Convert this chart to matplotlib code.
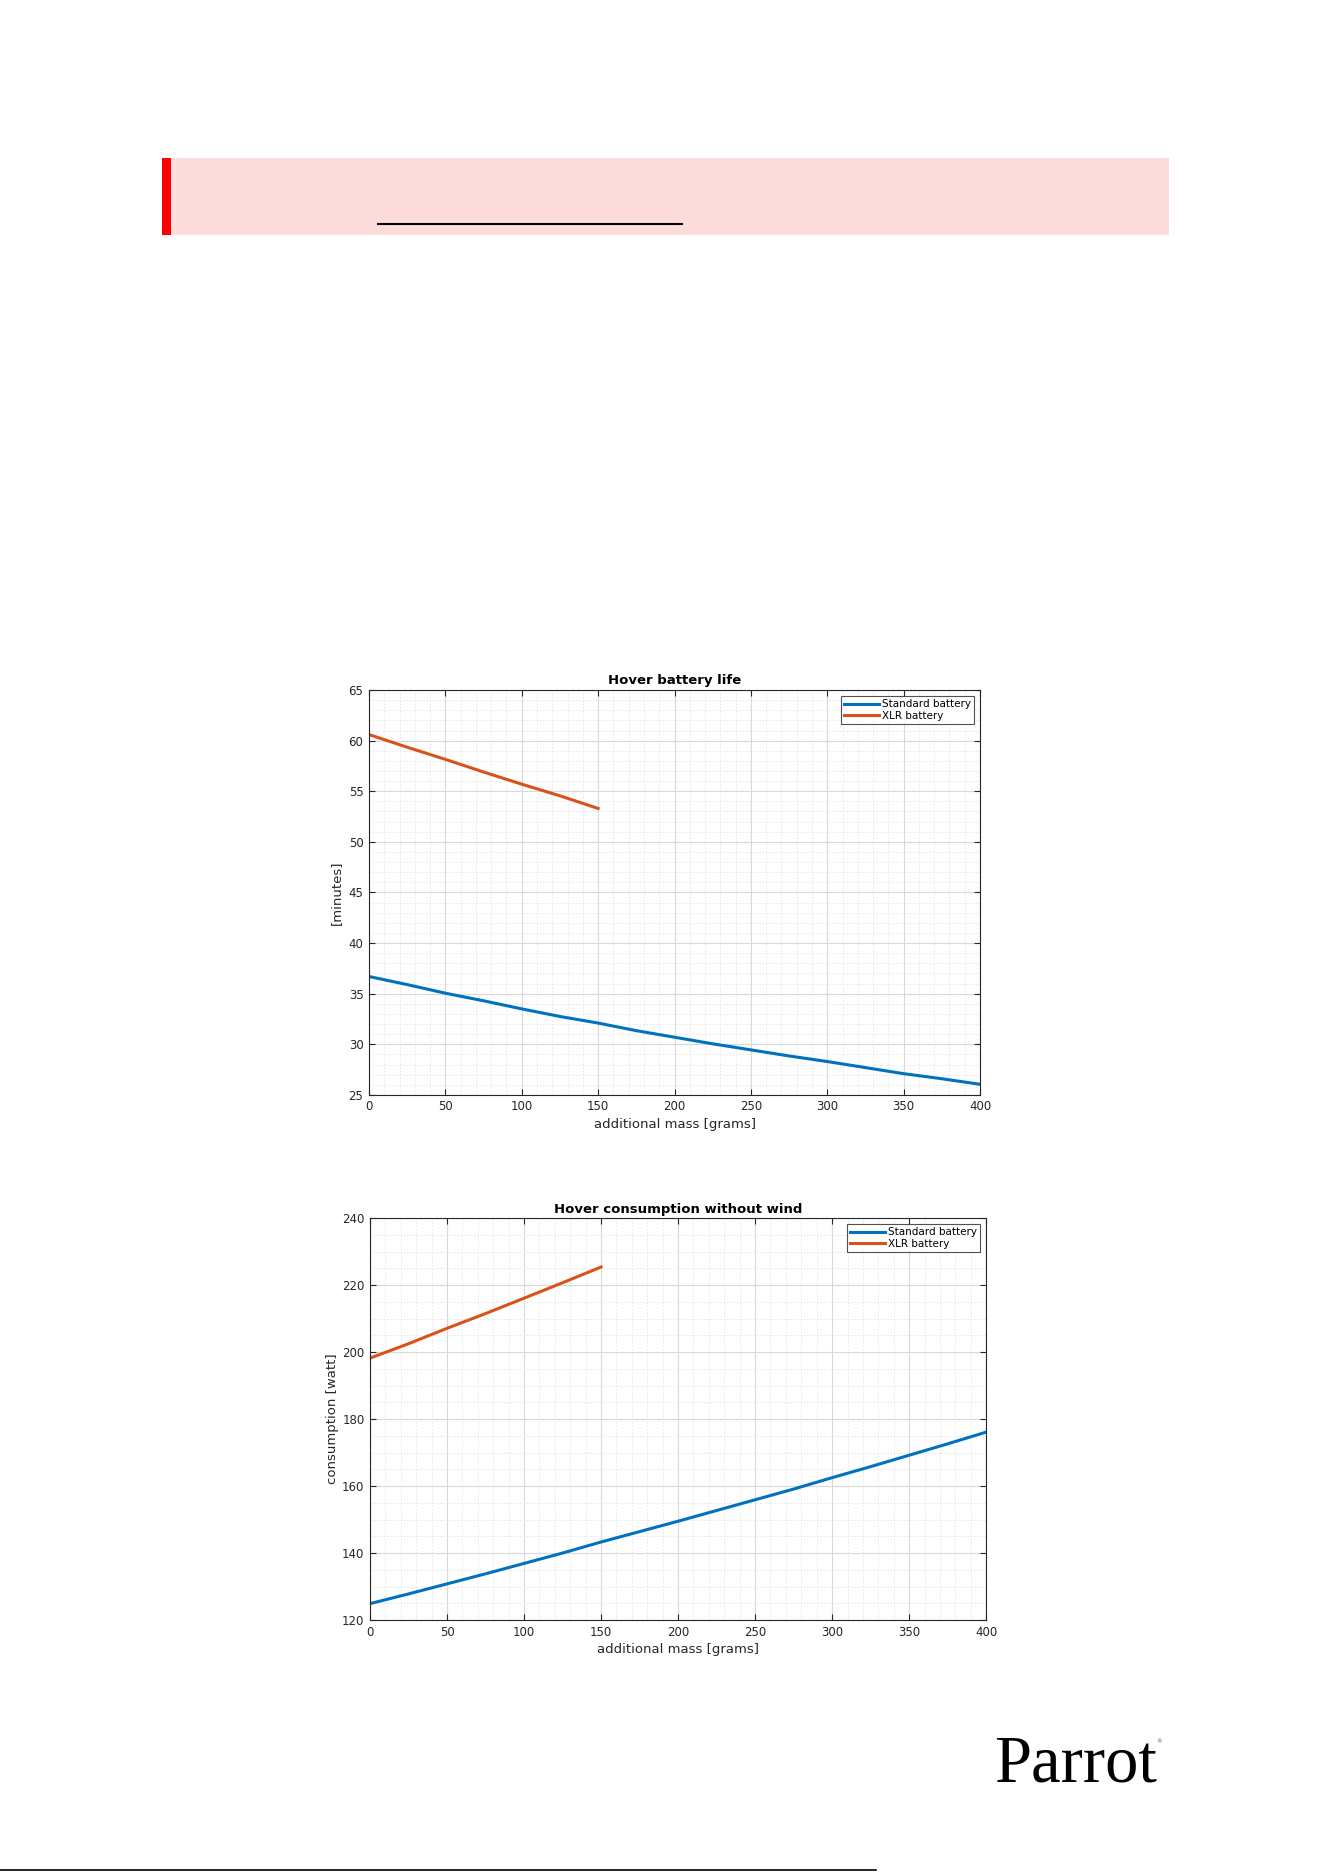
import matplotlib
matplotlib.use("Agg")
import matplotlib.pyplot as plt
from matplotlib.patches import Rectangle
from matplotlib.lines import Line2D
from matplotlib.ticker import MultipleLocator

plt.rcParams["font.family"] = ["DejaVu Sans"]

# additional mass [grams]
mass_std = [0, 25, 50, 75, 100, 125, 150, 175, 200, 225, 250, 275, 300, 325, 350, 375, 400]
mass_xlr = [0, 25, 50, 75, 100, 125, 150]

# hover battery life [minutes]
life_std = [36.7, 35.9, 35.05, 34.3, 33.5, 32.75, 32.1, 31.35, 30.7, 30.05, 29.45, 28.85, 28.3, 27.7, 27.1, 26.6, 26.05]
life_xlr = [60.6, 59.35, 58.15, 56.9, 55.7, 54.55, 53.3]

# hover consumption [watt]
cons_std = [124.9, 127.8, 130.8, 133.8, 136.9, 140.0, 143.3, 146.4, 149.5, 152.7, 155.9, 159.1, 162.5, 165.8, 169.2, 172.6, 176.1]
cons_xlr = [198.2, 202.5, 207.1, 211.5, 216.1, 220.7, 225.4]

BLUE = "#0072BD"
ORANGE = "#D95319"


def style_axes(ax, ymajor, yminor, ylim):
    ax.set_xlim(0, 400)
    ax.set_ylim(*ylim)
    ax.xaxis.set_major_locator(MultipleLocator(50))
    ax.xaxis.set_minor_locator(MultipleLocator(10))
    ax.yaxis.set_major_locator(MultipleLocator(ymajor))
    ax.yaxis.set_minor_locator(MultipleLocator(yminor))
    ax.grid(which="major", color="#d9d9d9", linewidth=0.8, linestyle="-")
    ax.grid(which="minor", color="#e4e4e4", linewidth=0.6, linestyle=(0, (2, 2)))
    ax.set_axisbelow(True)
    ax.tick_params(which="both", direction="in", top=True, right=True, labelsize=8.5,
                   colors="#262626", pad=4)
    ax.tick_params(which="minor", length=0)
    ax.tick_params(which="major", length=4)
    for s in ax.spines.values():
        s.set_color("#262626")
        s.set_linewidth(0.8)


def add_legend(ax):
    leg = ax.legend(loc="upper right", fontsize=7.5, frameon=True, fancybox=False,
                    handlelength=3.3, borderpad=0.3, labelspacing=0.15,
                    borderaxespad=0.6, handletextpad=0.3)
    leg.get_frame().set_edgecolor("#262626")
    leg.get_frame().set_linewidth(0.8)


fig = plt.figure(figsize=(13.24, 18.72), dpi=100)

# pink notice banner with red side bar
fig.patches.append(Rectangle((0.1224, 0.8745), 0.7606, 0.0411, transform=fig.transFigure,
                             facecolor="#FDDCDC", edgecolor="none"))
fig.patches.append(Rectangle((0.1224, 0.8745), 0.0068, 0.0411, transform=fig.transFigure,
                             facecolor="#FF0000", edgecolor="none"))
fig.lines.append(Line2D([0.2855, 0.5151], [0.8803, 0.8803], transform=fig.transFigure,
                        color="black", linewidth=1.5))

# top chart
ax1 = fig.add_axes([0.2787, 0.4151, 0.4615, 0.2163])
ax1.plot(mass_std, life_std, color=BLUE, linewidth=2.2, label="Standard battery")
ax1.plot(mass_xlr, life_xlr, color=ORANGE, linewidth=2.2, label="XLR battery")
style_axes(ax1, 5, 1, (25, 65))
ax1.set_title("Hover battery life", fontsize=9.5, fontweight="bold", pad=4)
ax1.set_xlabel("additional mass [grams]", fontsize=9.5, color="#262626", labelpad=3)
ax1.set_ylabel("[minutes]", fontsize=9.5, color="#262626", labelpad=4)
add_legend(ax1)

# bottom chart
ax2 = fig.add_axes([0.2795, 0.1346, 0.4653, 0.2147])
ax2.plot(mass_std, cons_std, color=BLUE, linewidth=2.2, label="Standard battery")
ax2.plot(mass_xlr, cons_xlr, color=ORANGE, linewidth=2.2, label="XLR battery")
style_axes(ax2, 20, 5, (120, 240))
ax2.set_title("Hover consumption without wind", fontsize=9.5, fontweight="bold", pad=4)
ax2.set_xlabel("additional mass [grams]", fontsize=9.5, color="#262626", labelpad=3)
ax2.set_ylabel("consumption [watt]", fontsize=9.5, color="#262626", labelpad=2)
add_legend(ax2)

# logo and footer rule
fig.text(0.751, 0.0483, "Parrot", family="Liberation Serif", fontsize=48, color="black",
         ha="left", va="baseline")
fig.text(0.873, 0.0685, "\u00ae", family="DejaVu Sans", fontsize=4, color="#555555")
fig.lines.append(Line2D([0.0, 0.662], [0.0011, 0.0011], transform=fig.transFigure,
                        color="black", linewidth=1.2))

fig.savefig("out.png", dpi=100)
